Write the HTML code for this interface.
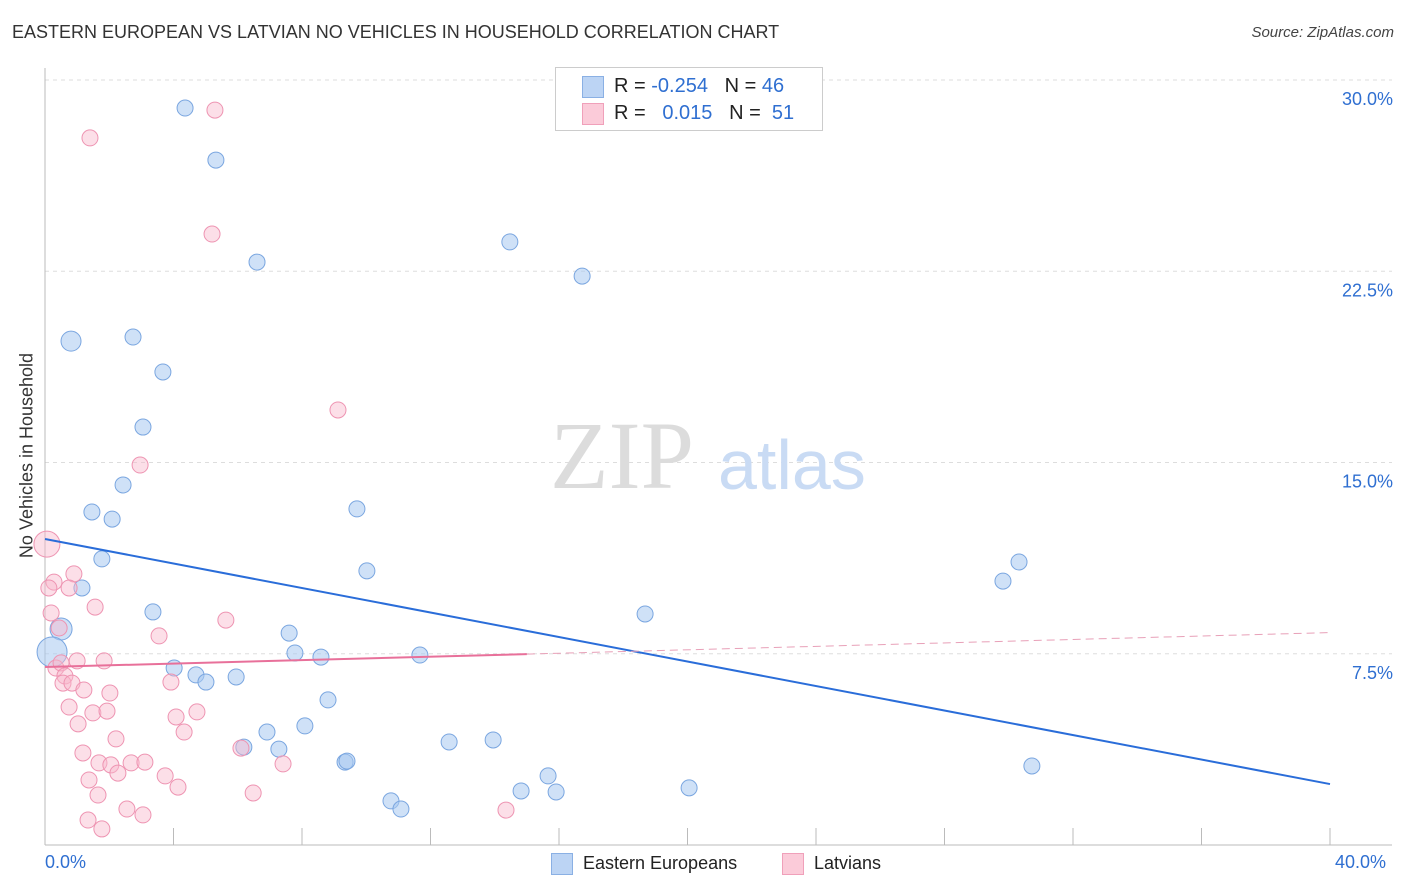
<!DOCTYPE html>
<html><head><meta charset="utf-8">
<style>
body{margin:0;background:#fff;font-family:"Liberation Sans",sans-serif;}
#wrap{position:relative;width:1406px;height:892px;overflow:hidden;}
.t{position:absolute;white-space:nowrap;}
</style></head>
<body>
<div id="wrap">
<div class="t" style="left:12px;top:22px;font-size:18px;color:#333;">EASTERN EUROPEAN VS LATVIAN NO VEHICLES IN HOUSEHOLD CORRELATION CHART</div>
<div class="t" style="right:12px;top:24px;font-size:15px;color:#444;font-style:italic;">Source: ZipAtlas.com</div>
<svg id="svg" width="1406" height="892" style="position:absolute;left:0;top:0"></svg>
<div class="t" style="left:555px;top:67px;width:266px;height:62px;border:1px solid #ccc;background:#fff;">
  <div style="position:absolute;left:26px;top:8px;width:20px;height:20px;background:#bcd4f4;border:1px solid #8ab0e4;"></div>
  <div style="position:absolute;left:26px;top:35px;width:20px;height:20px;background:#fbcbd9;border:1px solid #f0a0ba;"></div>
  <div class="t" style="left:58px;top:7px;font-size:20px;color:#222;">R = <span style="color:#2f6fd1">-0.254</span>&nbsp;&nbsp;&nbsp;N = <span style="color:#2f6fd1">46</span></div>
  <div class="t" style="left:58px;top:34px;font-size:20px;color:#222;">R = &nbsp;&nbsp;<span style="color:#2f6fd1">0.015</span>&nbsp;&nbsp;&nbsp;N = &nbsp;<span style="color:#2f6fd1">51</span></div>
</div>
<div class="t" style="left:550px;top:400px;font-size:96px;color:#dcdcdc;font-family:'Liberation Serif',serif;">ZIP</div>
<div class="t" style="left:718px;top:425px;font-size:70px;color:#c9dbf4;">atlas</div>
<div class="t" style="left:-78px;top:445px;font-size:18px;color:#333;transform:rotate(-90deg);width:210px;text-align:center;">No Vehicles in Household</div>
<div class="t" style="left:45px;top:852px;font-size:18px;color:#2f6fd1;">0.0%</div>
<div class="t" style="left:1335px;top:852px;font-size:18px;color:#2f6fd1;">40.0%</div>
<div style="position:absolute;left:551px;top:853px;width:20px;height:20px;background:#bcd4f4;border:1px solid #8ab0e4;"></div>
<div class="t" style="left:583px;top:853px;font-size:18px;color:#222;">Eastern Europeans</div>
<div style="position:absolute;left:782px;top:853px;width:20px;height:20px;background:#fbcbd9;border:1px solid #f0a0ba;"></div>
<div class="t" style="left:814px;top:853px;font-size:18px;color:#222;">Latvians</div>
</div>
<script>
const yTicks=[7.5,15,22.5,30];
const yTickLabels=["7.5%","15.0%","22.5%","30.0%"];
const blueX=[4.36,5.32,6.60,14.47,16.72,0.81,2.74,3.67,3.05,2.43,1.46,2.09,9.71,1.77,10.02,1.15,30.32,29.82,0.50,3.36,18.68,7.60,7.78,8.59,11.67,4.02,4.70,5.01,5.95,8.81,8.09,6.91,6.19,7.28,9.34,9.40,12.58,13.95,30.72,15.66,14.82,15.91,20.05,10.77,11.08,0.22];
const blueY=[28.90,26.86,22.86,23.65,22.31,19.76,19.92,18.55,16.39,14.12,13.06,12.78,13.18,11.22,10.75,10.08,11.10,10.35,8.47,9.14,9.06,8.31,7.53,7.37,7.45,6.94,6.67,6.39,6.59,5.69,4.67,4.43,3.84,3.76,3.25,3.29,4.04,4.12,3.10,2.71,2.12,2.08,2.24,1.73,1.41,7.57];
const blueR=[8,8,8,8,8,10,8,8,8,8,8,8,8,8,8,8,8,8,11,8,8,8,8,8,8,8,8,8,8,8,8,8,8,8,8,8,8,8,8,8,8,8,8,8,8,15];
const pinkX=[1.40,5.29,5.20,9.12,2.96,0.06,0.28,0.12,0.90,0.75,0.19,1.56,0.44,3.55,5.63,1.00,1.84,0.34,0.50,0.62,0.56,0.84,1.21,2.02,3.92,0.75,1.49,1.93,4.08,4.73,1.03,4.33,2.21,6.10,1.18,1.68,2.05,2.68,3.11,7.41,3.74,1.37,2.27,4.14,1.65,6.48,2.55,3.05,1.34,1.77,14.35];
const pinkY=[27.73,28.82,23.96,17.06,14.90,11.80,10.31,10.08,10.63,10.08,9.10,9.33,8.51,8.20,8.82,7.22,7.22,6.94,7.14,6.63,6.35,6.35,6.08,5.96,6.39,5.41,5.18,5.25,5.02,5.22,4.75,4.43,4.16,3.80,3.61,3.22,3.14,3.22,3.25,3.18,2.71,2.55,2.82,2.27,1.96,2.04,1.41,1.18,0.98,0.63,1.37];
const pinkR=[8,8,8,8,8,13,8,8,8,8,8,8,8,8,8,8,8,8,8,8,8,8,8,8,8,8,8,8,8,8,8,8,8,8,8,8,8,8,8,8,8,8,8,8,8,8,8,8,8,8,8];
const blueTrend=[12.0,2.39];
const pinkTrend=[6.98,8.33];
const pinkSolidEnd=15;
const X=v=>45+v/40*1285, Y=v=>845-v/30*765;
const svg=document.getElementById('svg');
const NS='http://www.w3.org/2000/svg';
function mk(tag,attrs){const e=document.createElementNS(NS,tag);for(const k in attrs)e.setAttribute(k,attrs[k]);svg.appendChild(e);return e;}
yTicks.forEach((t,i)=>{
 const g=mk('line',{x1:45,x2:1392,y1:Y(t),y2:Y(t),stroke:'#ddd','stroke-dasharray':'4,4'});
 
 
 const tx=mk('text',{x:1393,y:Y(t)+25,'text-anchor':'end','font-size':18,fill:'#2f6fd1','font-family':'Liberation Sans, sans-serif'});
 tx.textContent=yTickLabels[i];
 
 
});
let ax=mk('line',{x1:45,x2:45,y1:68,y2:845,stroke:'#bbb'});


ax=mk('line',{x1:45,x2:1392,y1:845,y2:845,stroke:'#bbb'});


for(let i=1;i<=10;i++){const l=mk('line',{x1:X(i*4),x2:X(i*4),y1:828,y2:845,stroke:'#bbb'});
 
 }
blueX.forEach((x,i)=>{const c=mk('circle',{cx:X(x),cy:Y(blueY[i]),r:blueR[i],fill:'rgba(168,200,240,0.55)',stroke:'#7aa6e0','stroke-width':1});
 
 });
pinkX.forEach((x,i)=>{const c=mk('circle',{cx:X(x),cy:Y(pinkY[i]),r:pinkR[i],fill:'rgba(248,184,204,0.45)',stroke:'#ee94b2','stroke-width':1});
 
 });
let l=mk('line',{x1:X(0),y1:Y(blueTrend[0]),x2:X(40),y2:Y(blueTrend[1]),stroke:'#2a6dd9','stroke-width':2});


const py=x=>pinkTrend[0]+(pinkTrend[1]-pinkTrend[0])*x/40;
l=mk('line',{x1:X(0),y1:Y(py(0)),x2:X(pinkSolidEnd),y2:Y(py(pinkSolidEnd)),stroke:'#e8709a','stroke-width':2});


l=mk('line',{x1:X(pinkSolidEnd),y1:Y(py(pinkSolidEnd)),x2:X(40),y2:Y(py(40)),stroke:'#e8a0b8','stroke-width':1,'stroke-dasharray':'8,5'});


</script>
</body></html>
